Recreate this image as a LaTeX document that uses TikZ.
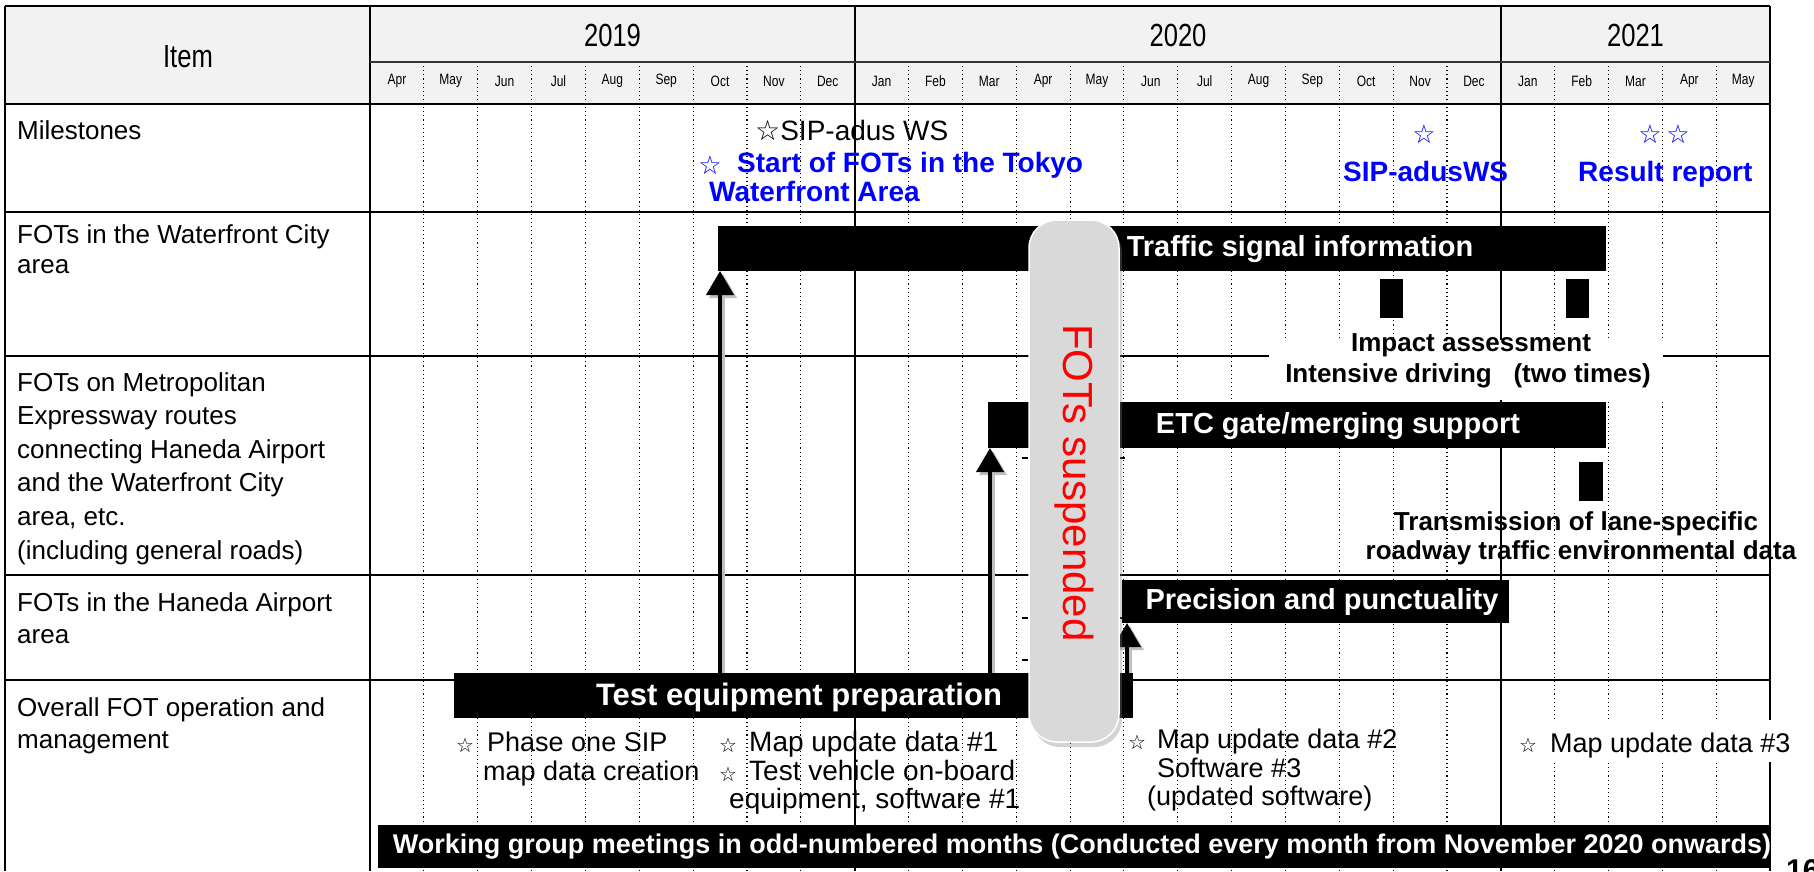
\documentclass[tikz,border=0pt]{standalone}
\usepackage{fontspec}
\setmainfont{Liberation Sans}
\newfontfamily\narrowf{Liberation Sans}[FakeStretch=0.8]
\newfontfamily\symf{DejaVu Sans}
\usetikzlibrary{shadows,arrows.meta,calc}
\definecolor{hdr}{HTML}{F2F2F2}
\definecolor{suspgray}{HTML}{D9D9D9}
\definecolor{msblue}{HTML}{0000FF}
\begin{document}
\begin{tikzpicture}[x=1pt,y=-1pt,
  gridln/.style={line width=1.1pt, dash pattern=on 1.1pt off 3pt, black},
  tline/.style={line width=2.8pt, black},
  hdrfont/.style={inner sep=0, font=\narrowf\fontsize{32}{38}\selectfont},
  monfont/.style={inner sep=0, font=\narrowf\fontsize{15}{18}\selectfont},
  itemtxt/.style={anchor=base west, inner sep=0, font=\fontsize{26}{31}\selectfont},
  bar/.style={fill=black, draw=none, inner sep=0, outer sep=0},
  bartxt/.style={text=white, inner sep=0, font=\bfseries\fontsize{29}{34}\selectfont},
  bluetxt/.style={text=msblue, inner sep=0, anchor=base west, font=\bfseries\fontsize{28}{33}\selectfont},
  bstar/.style={text=msblue, inner sep=0, font=\symf\bfseries\fontsize{26}{30}\selectfont},
  note/.style={inner sep=0, anchor=base west, font=\fontsize{27}{32}\selectfont},
  sstar/.style={inner sep=0, font=\symf\fontsize{20}{24}\selectfont},
  bnote/.style={inner sep=0, anchor=base, font=\bfseries\fontsize{26}{31}\selectfont},
  arr/.style={line width=4pt, -{Triangle[length=24pt,width=27pt]}},
  arrsh/.style={line width=4pt, black!25, -{Triangle[length=24pt,width=27pt]}},
  tick/.style={line width=1.5pt, black},
]
\useasboundingbox (0,0) rectangle (1814,871);
% header background
\fill[hdr] (5,6) rectangle (1770,104);
% dotted month grid
\foreach \i in {1,...,8,10,11,...,20,22,23,24,25}
  \draw[gridln] ({370+53.85*\i},62) -- ({370+53.85*\i},871);
% solid table lines
\draw[tline] (5,6) -- (1770,6);
\draw[tline] (5,6) -- (5,871);
\draw[tline] (1770,6) -- (1770,871);
\draw[tline] (370,6) -- (370,871);
\draw[tline] (855,6) -- (855,871);
\draw[tline] (1501,6) -- (1501,871);
\draw[tline, black!80] (370,62) -- (1770,62);
\foreach \yy in {104,212,356,575,680}
  \draw[tline] (5,\yy) -- (1770,\yy);
% header texts
\node[hdrfont] (item) at (188,57) {Item};
\node[hdrfont] (y2019) at (612.5,35) {2019};
\node[hdrfont] (y2020) at (1178,35) {2020};
\node[hdrfont] (y2021) at (1635.5,35) {2021};
\foreach \m [count=\i from 0] in {Apr,May,Jun,Jul,Aug,Sep,Oct,Nov,Dec,Jan,Feb,Mar,Apr,May,Jun,Jul,Aug,Sep,Oct,Nov,Dec,Jan,Feb,Mar,Apr,May}
  \node[monfont] (mon\i) at ({370+53.85*(\i+0.5)},81) {\m};
% item column
\node[itemtxt] (r1) at (17,139) {Milestones};
\node[itemtxt] (r2a) at (17,243) {FOTs in the Waterfront City};
\node[itemtxt] (r2b) at (17,273) {area};
\node[itemtxt] (r3a) at (17,391) {FOTs on Metropolitan};
\node[itemtxt] (r3b) at (17,424) {Expressway routes};
\node[itemtxt] (r3c) at (17,458) {connecting Haneda Airport};
\node[itemtxt] (r3d) at (17,491) {and the Waterfront City};
\node[itemtxt] (r3e) at (17,525) {area, etc.};
\node[itemtxt] (r3f) at (17,559) {(including general roads)};
\node[itemtxt] (r4a) at (17,611) {FOTs in the Haneda Airport};
\node[itemtxt] (r4b) at (17,643) {area};
\node[itemtxt] (r5a) at (17,716) {Overall FOT operation and};
\node[itemtxt] (r5b) at (17,748) {management};
% milestones
\node[note, font=\fontsize{28}{33}\selectfont] (sipws1) at (755,140) {{\symf ☆}SIP-adus WS};
\node[bstar] (st1) at (710,165) {☆};
\node[bluetxt] (start1) at (737,172) {Start of FOTs in the Tokyo};
\node[bluetxt] (start2) at (709,201) {Waterfront Area};
\node[bstar] (st2) at (1424,134) {☆};
\node[bluetxt] (sipws2) at (1343,181) {SIP-adusWS};
\node[bstar] (st3) at (1650,134) {☆};
\node[bstar] (st4) at (1678,134) {☆};
\node[bluetxt] (result) at (1578,181) {Result report};
% bars
\node[bar, minimum width=888pt, minimum height=45pt] (tsi) at (1162,248.5) {};
\node[bar, minimum width=23pt, minimum height=39pt] (ia1) at (1391.5,298.5) {};
\node[bar, minimum width=23pt, minimum height=39pt] (ia2) at (1577.5,298.5) {};
\node[bar, minimum width=618pt, minimum height=46pt] (etc) at (1297,425) {};
\node[bar, minimum width=24pt, minimum height=39pt] (tr1) at (1591,481.5) {};
\node[bar, minimum width=387pt, minimum height=43pt] (pp) at (1315.5,601.5) {};
\node[bar, minimum width=679pt, minimum height=45pt] (tep) at (793.5,695.5) {};
\node[bar, minimum width=1392pt, minimum height=43pt] (wg) at (1074,846.5) {};
% arrows
\coordinate (ax1) at (720,0);
\coordinate (ax2) at (990,0);
\coordinate (ax3) at (1127,0);
\draw[arrsh] ($(tep.north -| ax1)+(3,0)$) -- ($(tsi.south -| ax1)+(3,3)$);
\draw[arrsh] ($(tep.north -| ax2)+(3,0)$) -- ($(etc.south -| ax2)+(3,3)$);
\draw[arrsh] ($(tep.north -| ax3)+(3,0)$) -- ($(pp.south -| ax3)+(3,3)$);
\draw[arr] (tep.north -| ax1) -- (tsi.south -| ax1);
\draw[arr] (tep.north -| ax2) -- (etc.south -| ax2);
\draw[arr] (tep.north -| ax3) -- (pp.south -| ax3);
% bar texts
\node[bartxt] (tsitxt) at (1300,249) {Traffic signal information};
\node[bartxt] (etctxt) at (1338,426) {ETC gate/merging support};
\node[bartxt] (pptxt) at (1322,602) {Precision and punctuality};
\node[bartxt, font=\bfseries\fontsize{31}{36}\selectfont] (teptxt) at (799,697) {Test equipment preparation};
\node[bartxt, font=\bfseries\fontsize{27}{32}\selectfont] (wgtxt) at (1082,847) {Working group meetings in odd-numbered months (Conducted every month from November 2020 onwards)};
% impact assessment
\node[fill=white, inner sep=0, minimum width=394pt, minimum height=60pt] (iabg) at (1466,370) {};
\node[bnote] (ia1txt) at (1471,351) {Impact assessment};
\node[bnote] (ia2txt) at (1468,382) {Intensive driving\ \ \ (two times)};
% transmission
\node[bnote] (trtxt1) at (1576,530) {Transmission of lane-specific};
\node[bnote] (trtxt2) at (1581,559) {roadway traffic environmental data};
% overall notes
\node[sstar] (s1) at (465,745) {☆};
\node[note] (n1a) at (487,751) {Phase one SIP};
\node[note] (n1b) at (483,780) {map data creation};
\node[sstar] (s2) at (728,745) {☆};
\node[note, font=\fontsize{28}{33}\selectfont] (n2a) at (749,751) {Map update data \#1};
\node[sstar] (s3) at (728,774) {☆};
\node[note, font=\fontsize{28}{33}\selectfont] (n2b) at (749,780) {Test vehicle on-board};
\node[note, font=\fontsize{28}{33}\selectfont] (n2c) at (729,808) {equipment, software \#1};
\node[sstar] (s4) at (1137,742) {☆};
\node[note] (n3a) at (1157,748) {Map update data \#2};
\node[note] (n3b) at (1157,777) {Software \#3};
\node[note] (n3c) at (1147,805) {(updated software)};
\node[fill=white, inner sep=0, minimum width=292pt, minimum height=42pt] (mu3bg) at (1661,741) {};
\node[sstar] (s5) at (1528,745) {☆};
\node[note] (n4a) at (1550,752) {Map update data \#3};
% page number fragment
\node[inner sep=0, anchor=base west, font=\bfseries\fontsize{30}{36}\selectfont] (pgno) at (1786,880) {16};
% small artefact ticks
\draw[tick] (1022,458) -- (1028,458);
\draw[tick] (1120,458) -- (1125,458);
\draw[tick] (1022,618) -- (1028,618);
\draw[tick] (1022,660) -- (1028,660);
\draw[tick] (1120,618) -- (1124,618);
% FOTs suspended
\node[draw=white, line width=1.5pt, fill=suspgray, rounded corners=28pt, minimum width=90pt, minimum height=522pt, inner sep=0,
  drop shadow={shadow xshift=3pt, shadow yshift=-5pt, opacity=0.35}] (susp) at (1074,481) {};
\node[rotate=-90, text=red, inner sep=0, font=\fontsize{42}{48}\selectfont] (susptxt) at (1074,483) {FOTs suspended};
\end{tikzpicture}
\end{document}
